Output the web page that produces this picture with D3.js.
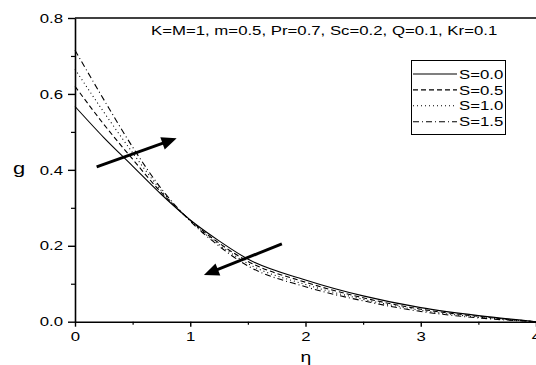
<!DOCTYPE html>
<html>
<head>
<meta charset="utf-8">
<script src="https://cdnjs.cloudflare.com/ajax/libs/d3/7.8.5/d3.min.js"></script>
<style>
  body { margin: 0; background: #fff; }
  svg { display: block; }
  text { font-family: "Liberation Sans", Arial, sans-serif; fill: #000; }
</style>
</head>
<body>
<div id="chart"></div>
<script>
var margin = {top: 18, right: 0, bottom: 43.3, left: 75};
var width = 536, height = 365;
var stretch = 1.29;

// data
var eta = [0, 0.25, 0.5, 0.75, 1, 1.25, 1.5, 2, 2.5, 3, 3.5, 4];
var g_S00 = [0.567, 0.485, 0.410, 0.335, 0.268, 0.213, 0.165, 0.110, 0.068, 0.037, 0.016, 0];
var g_S05 = [0.620, 0.520, 0.428, 0.340, 0.267, 0.207, 0.159, 0.104, 0.063, 0.033, 0.014, 0];
var g_S10 = [0.665, 0.552, 0.445, 0.345, 0.266, 0.203, 0.153, 0.098, 0.059, 0.030, 0.012, 0];
var g_S15 = [0.715, 0.585, 0.460, 0.350, 0.265, 0.199, 0.147, 0.092, 0.055, 0.027, 0.010, 0];
var seriesNames = ["S=0.0", "S=0.5", "S=1.0", "S=1.5"];
var seriesValues = [g_S00, g_S05, g_S10, g_S15];
var dashes = [null, "5,3", "1,3", "6,3,1,3"];

var xTicks = [0, 1, 2, 3, 4];
var xMinor = [0.5, 1.5, 2.5, 3.5];
var yTicks = [0, 0.2, 0.4, 0.6, 0.8];
var yMinor = [0.1, 0.3, 0.5, 0.7];

var note = "K=M=1, m=0.5, Pr=0.7, Sc=0.2, Q=0.1, Kr=0.1";

// arrows: [eta, g] tail -> head
var arrows = [
  [[0.188, 0.408], [0.882, 0.483]],
  [[1.795, 0.205], [1.119, 0.123]]
];

var svg = d3.select("#chart").append("svg")
  .attr("width", width)
  .attr("height", height);

var x = d3.scaleLinear().domain([0, 4]).range([margin.left, width - margin.right]);
var y = d3.scaleLinear().domain([0, 0.8]).range([height - margin.bottom, margin.top]);

// widen text horizontally around its anchor
function widen(sel) {
  sel.each(function() {
    var t = d3.select(this);
    var tx = +t.attr("x") || 0, ty = +t.attr("y") || 0;
    t.attr("x", 0).attr("y", 0)
      .attr("transform", "translate(" + tx + "," + ty + ") scale(" + stretch + ",1)");
  });
}

// minor ticks
svg.append("g")
  .attr("transform", "translate(0," + y(0) + ")")
  .call(d3.axisBottom(x).tickValues(xMinor).tickSize(3).tickFormat(""))
  .call(function(g) { g.select(".domain").remove(); g.selectAll("line").attr("stroke-width", 1.2); });

svg.append("g")
  .attr("transform", "translate(" + x(0) + ",0)")
  .call(d3.axisLeft(y).tickValues(yMinor).tickSize(4).tickFormat(""))
  .call(function(g) { g.select(".domain").remove(); g.selectAll("line").attr("stroke-width", 1.2); });

// major axes
var xAxis = svg.append("g")
  .attr("transform", "translate(0," + y(0) + ")")
  .call(d3.axisBottom(x).tickValues(xTicks).tickSize(5).tickPadding(5).tickSizeOuter(0).tickFormat(d3.format("d")));
xAxis.select(".domain").attr("stroke-width", 1.6);
xAxis.selectAll(".tick line").attr("stroke-width", 1.4);
xAxis.selectAll(".tick text").style("font-size", "13px");
widen(xAxis.selectAll(".tick text"));

var yAxis = svg.append("g")
  .attr("transform", "translate(" + x(0) + ",0)")
  .call(d3.axisLeft(y).tickValues(yTicks).tickSize(7).tickPadding(5).tickSizeOuter(0).tickFormat(d3.format(".1f")));
yAxis.select(".domain").attr("stroke-width", 1.6);
yAxis.selectAll(".tick line").attr("stroke-width", 1.4);
yAxis.selectAll(".tick text").style("font-size", "13px");
widen(yAxis.selectAll(".tick text"));

// top frame
svg.append("line")
  .attr("x1", x(0)).attr("x2", x(4))
  .attr("y1", y(0.8)).attr("y2", y(0.8))
  .attr("stroke", "#000").attr("stroke-width", 1.6);

// axis titles
svg.append("text")
  .attr("x", 306).attr("y", 362)
  .attr("text-anchor", "middle")
  .style("font-size", "15px")
  .text("η")
  .call(widen);

svg.append("text")
  .attr("x", 19).attr("y", 174)
  .attr("text-anchor", "middle")
  .style("font-size", "17px")
  .text("g")
  .call(widen);

// curves
var line = d3.line()
  .x(function(d, i) { return x(eta[i]); })
  .y(function(d) { return y(d); })
  .curve(d3.curveMonotoneX);

seriesValues.forEach(function(vals, i) {
  svg.append("path")
    .datum(vals)
    .attr("fill", "none")
    .attr("stroke", "#000")
    .attr("stroke-width", 1.1)
    .attr("stroke-dasharray", dashes[i])
    .attr("d", line);
});

// arrows
arrows.forEach(function(a) {
  var x1 = x(a[0][0]), y1 = y(a[0][1]), x2 = x(a[1][0]), y2 = y(a[1][1]);
  var ang = Math.atan2(y2 - y1, x2 - x1);
  var hl = 15, hw = 6.5;
  var bx = x2 - hl * Math.cos(ang), by = y2 - hl * Math.sin(ang);
  svg.append("line")
    .attr("x1", x1).attr("y1", y1).attr("x2", bx + 2 * Math.cos(ang)).attr("y2", by + 2 * Math.sin(ang))
    .attr("stroke", "#000").attr("stroke-width", 3);
  svg.append("path")
    .attr("d", "M" + x2 + "," + y2 +
      "L" + (bx - hw * Math.sin(ang)) + "," + (by + hw * Math.cos(ang)) +
      "L" + (bx + hw * Math.sin(ang)) + "," + (by - hw * Math.cos(ang)) + "Z")
    .attr("fill", "#000");
});

// parameter note
svg.append("text")
  .attr("x", 151).attr("y", 35)
  .style("font-size", "13px")
  .text(note)
  .call(widen);

// legend
var legend = svg.append("g");
legend.append("rect")
  .attr("x", 411.5).attr("y", 60.5)
  .attr("width", 94).attr("height", 74)
  .attr("fill", "#fff")
  .attr("stroke", "#000")
  .attr("stroke-width", 1);

seriesNames.forEach(function(name, i) {
  var cy = 74 + i * 15.9;
  legend.append("line")
    .attr("x1", 413).attr("x2", 457)
    .attr("y1", cy).attr("y2", cy)
    .attr("stroke", "#000")
    .attr("stroke-width", 1.1)
    .attr("stroke-dasharray", dashes[i]);
  legend.append("text")
    .attr("x", 459).attr("y", cy + 4.6)
    .style("font-size", "13px")
    .text(name)
    .call(widen);
});
</script>
</body>
</html>
